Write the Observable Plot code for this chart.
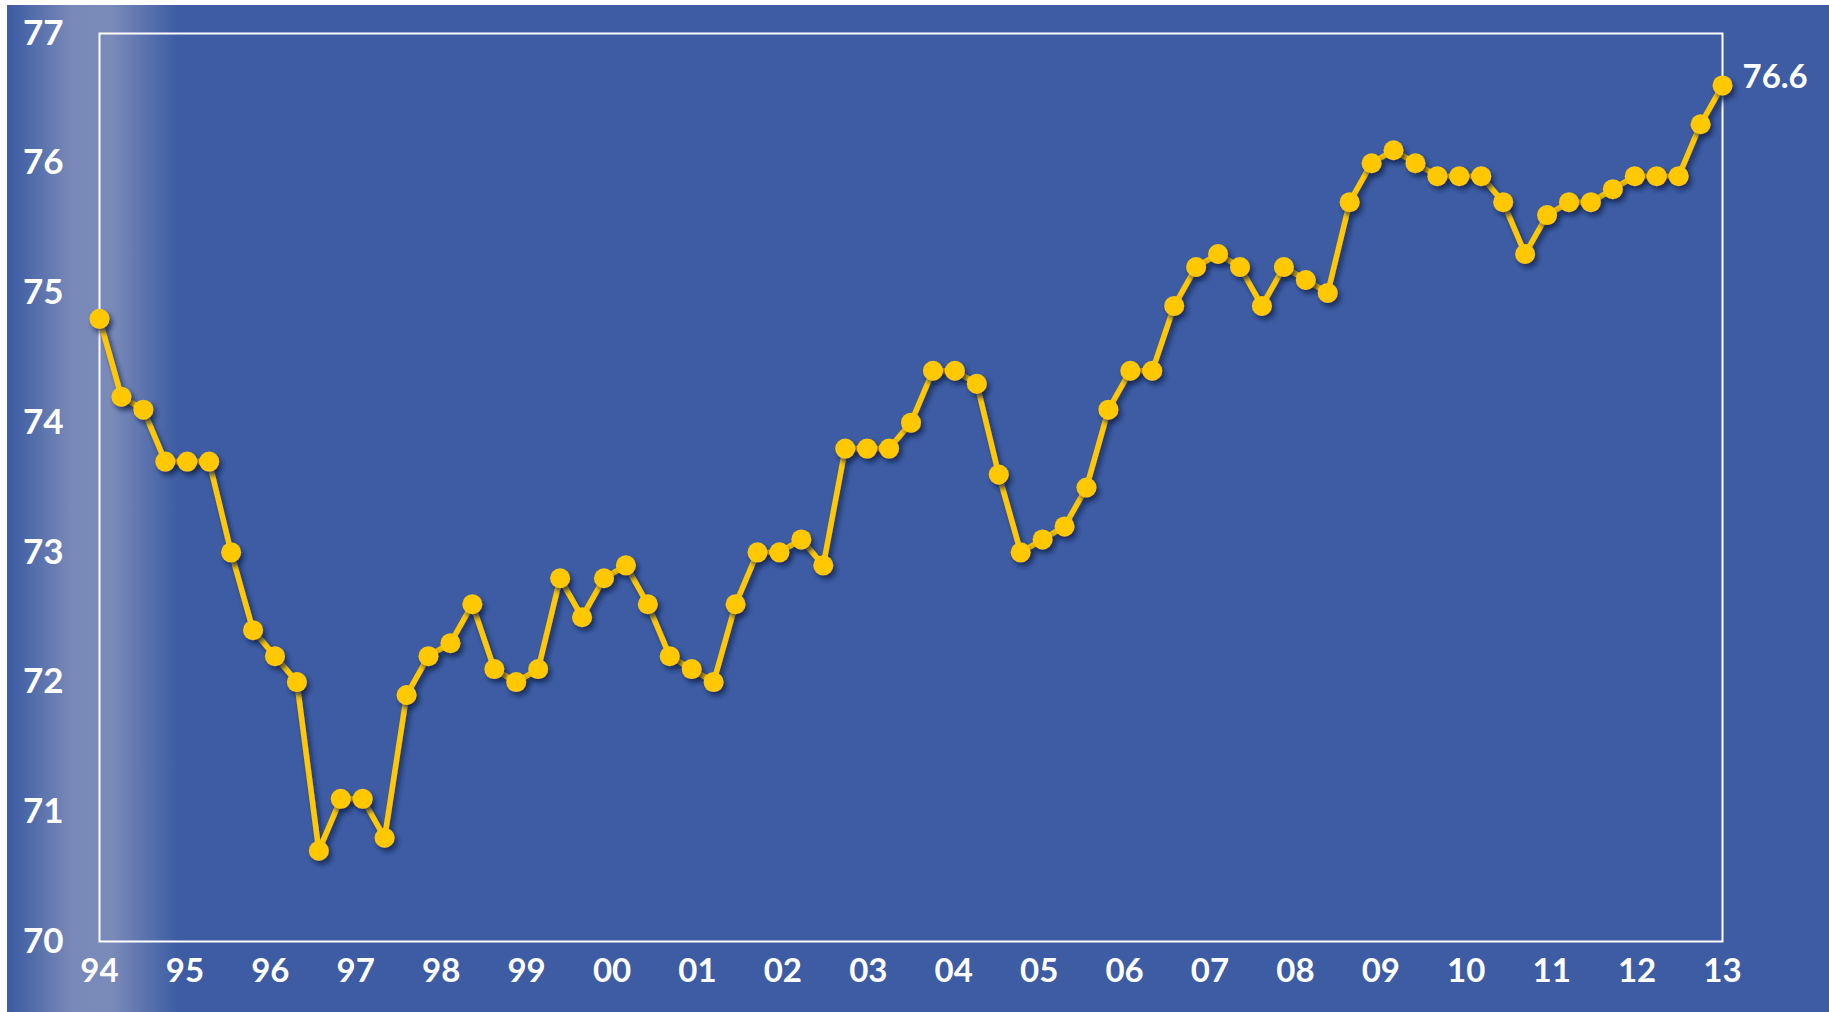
<!DOCTYPE html>
<html>
<head>
<meta charset="utf-8">
<script src="https://cdn.jsdelivr.net/npm/d3@7"></script>
<script src="https://cdn.jsdelivr.net/npm/@observablehq/plot@0.6"></script>
<style>
  html, body { margin: 0; padding: 0; background: #ffffff; }
  #page { position: relative; width: 1829px; height: 1012px; overflow: hidden; }
  #panel {
    position: absolute; left: 7px; top: 5px; right: 0; bottom: 0;
    background: linear-gradient(to right,
      #3d5ca3 0px, #3f5ea4 6px, #7888b8 63px, #7a8ab9 105px, #3d5ca3 171px, #3d5ca3 100%);
  }
  #chart { position: absolute; left: 0; top: 0; }
</style>
</head>
<body>
<div id="page">
  <div id="panel"></div>
  <div id="chart"></div>
</div>
<script>
// Quarterly readings, first to last
const values = [
  74.8, 74.2, 74.1, 73.7, 73.7, 73.7, 73.0, 72.4, 72.2, 72.0,
  70.7, 71.1, 71.1, 70.8, 71.9, 72.2, 72.3, 72.6, 72.1, 72.0,
  72.1, 72.8, 72.5, 72.8, 72.9, 72.6, 72.2, 72.1, 72.0, 72.6,
  73.0, 73.0, 73.1, 72.9, 73.8, 73.8, 73.8, 74.0, 74.4, 74.4,
  74.3, 73.6, 73.0, 73.1, 73.2, 73.5, 74.1, 74.4, 74.4, 74.9,
  75.2, 75.3, 75.2, 74.9, 75.2, 75.1, 75.0, 75.7, 76.0, 76.1,
  76.0, 75.9, 75.9, 75.9, 75.7, 75.3, 75.6, 75.7, 75.7, 75.8,
  75.9, 75.9, 75.9, 76.3, 76.6
];

// Year labels spread evenly along the horizontal axis
const yearLabels = ["94", "95", "96", "97", "98", "99", "00", "01", "02", "03",
                    "04", "05", "06", "07", "08", "09", "10", "11", "12", "13"];

const yTicks = [70, 71, 72, 73, 74, 75, 76, 77];

const data = values.map((v, i) => ({i, v}));
const last = data[data.length - 1];
const span = values.length - 1;
const yearPos = yearLabels.map((_, k) => k * span / (yearLabels.length - 1));
const labelAt = new Map(yearPos.map((p, k) => [p, yearLabels[k]]));

const gold = "#ffc800";
const font = "Lato, 'Open Sans', sans-serif";

const chart = Plot.plot({
  width: 1829,
  height: 1012,
  marginLeft: 99,
  marginRight: 107,
  marginTop: 33,
  marginBottom: 71,
  style: {background: "transparent", color: "white", fontFamily: font, fontWeight: "bold", overflow: "visible"},
  x: {domain: [0, span]},
  y: {domain: [70, 77]},
  marks: [
    Plot.frame({stroke: "white", strokeWidth: 2}),
    Plot.axisY(yTicks, {tickSize: 0, tickPadding: 36, fontSize: 35, fontWeight: "bold", fill: "white",
                        tickFormat: d => String(d), label: null}),
    Plot.axisX(yearPos, {tickSize: 0, tickPadding: 17, fontSize: 33, fontWeight: "bold", fill: "white",
                         tickFormat: d => labelAt.get(d), label: null}),
    Plot.line(data, {x: "i", y: "v", stroke: gold, strokeWidth: 5.5, strokeLinejoin: "round", className: "shadowed"}),
    Plot.dot(data, {x: "i", y: "v", r: 10, fill: gold, stroke: "none", className: "shadowed"}),
    Plot.text([last], {x: "i", y: "v", text: d => d.v.toFixed(1), dx: 20, dy: -8, textAnchor: "start",
                       fill: "white", fontSize: 33, fontWeight: "bold"})
  ]
});

// soft drop shadow behind the series
const svg = d3.select(chart);
svg.insert("defs", ":first-child")
  .append("filter")
  .attr("id", "seriesShadow")
  .attr("x", "-10%").attr("y", "-10%").attr("width", "120%").attr("height", "120%")
  .append("feDropShadow")
  .attr("dx", 3).attr("dy", 4).attr("stdDeviation", 2.5)
  .attr("flood-color", "#142248").attr("flood-opacity", 0.75);
svg.selectAll("g.shadowed").attr("filter", "url(#seriesShadow)");

document.getElementById("chart").appendChild(chart);
</script>
</body>
</html>
